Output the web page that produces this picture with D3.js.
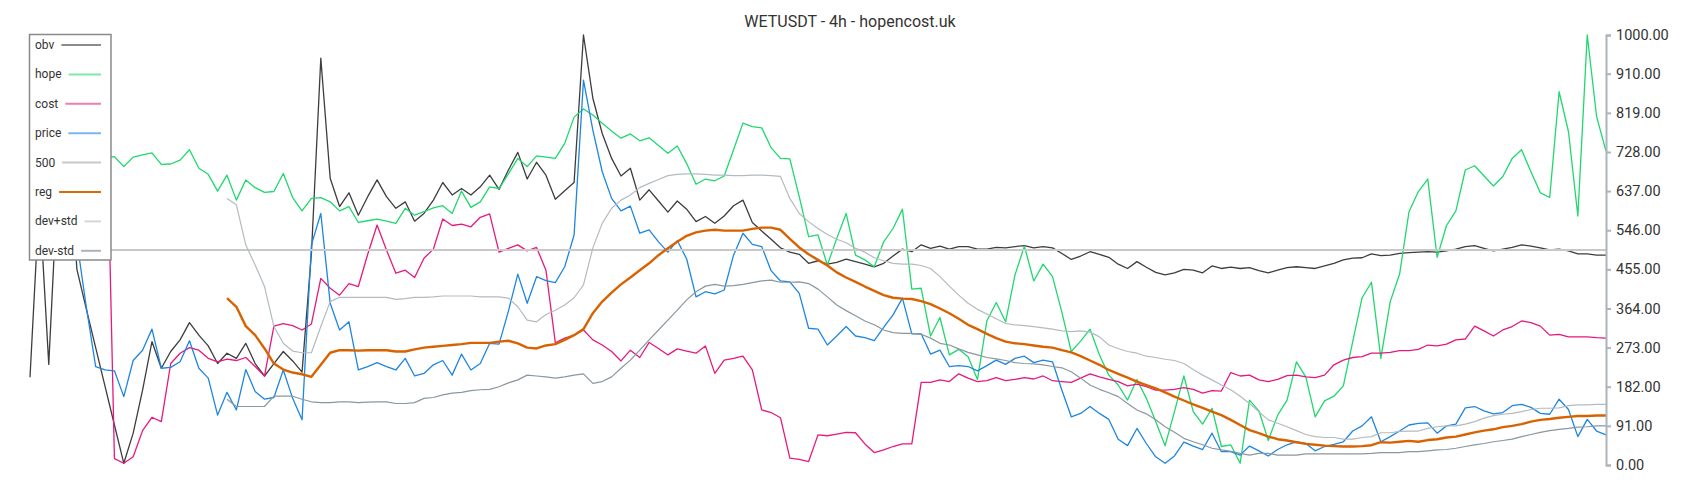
<!DOCTYPE html>
<html><head><meta charset="utf-8">
<script src="https://cdn.jsdelivr.net/npm/d3@7"></script>
<style>
body{margin:0;background:#fff;}
svg{display:block;font-family:Roboto,"Noto Sans",sans-serif;}
</style>
</head><body>
<svg id="chart" width="1700" height="500"></svg>
<script>
const title = "WETUSDT - 4h - hopencost.uk";
const yTicks = [0, 91, 182, 273, 364, 455, 546, 637, 728, 819, 910, 1000];
const seriesNames = ["obv", "hope", "cost", "price", "500", "reg", "dev+std", "dev-std"];

const obv = [
204,620,234,680,780,455,363,273,183,93,
4,74,174,287,225,264,291,331,302,277,
236,260,248,283,236,207,236,264,242,216,
492,946,667,601,633,581,624,663,624,597,
612,567,585,616,657,628,643,628,647,674,
641,686,727,665,704,674,618,638,657,1000,
853,771,713,672,690,616,640,614,588,614,
595,566,578,562,579,603,616,564,544,525,
505,495,490,469,475,467,471,479,473,467,
461,469,486,502,496,512,504,509,502,508,
508,502,502,506,505,508,510,505,508,505,
492,478,486,496,490,483,467,457,473,460,
448,442,447,455,453,447,463,457,460,457,
459,452,447,453,459,461,459,457,463,469,
477,481,482,491,487,488,492,494,495,496,
495,498,502,508,510,504,498,502,506,512,
509,505,500,502,498,491,491,488,488];

const hope = [
690,720,700,740,710,730,700,720,715,717,
694,716,721,726,699,700,709,733,690,676,
637,674,616,663,645,634,636,678,622,591,
620,622,612,591,601,564,568,572,567,562,
597,581,589,598,603,585,637,599,612,647,
643,677,713,694,719,716,713,748,809,828,
814,795,777,760,770,754,761,743,725,742,
701,653,665,661,672,733,795,787,784,738,
713,712,624,531,535,465,527,585,488,477,
461,519,550,595,409,411,300,343,256,269,
252,199,335,378,333,442,509,428,467,438,
355,264,288,316,256,209,186,151,199,155,
101,45,124,207,124,95,132,43,47,4,
151,126,57,116,151,240,205,112,149,160,
184,287,389,425,248,380,444,589,636,665,
483,557,591,686,696,672,649,671,713,733,
682,633,622,868,775,579,1000,810,730];

const cost = [
880,940,920,970,1000,950,930,960,990,15,
4,19,80,111,101,236,260,273,267,248,
240,246,243,250,229,207,323,329,324,314,
328,434,411,395,422,415,490,558,500,446,
453,436,481,502,572,557,560,554,576,584,
495,504,512,498,506,453,284,295,302,314,
291,279,264,242,267,250,285,271,256,270,
265,260,277,213,244,248,253,221,128,122,
110,16,13,8,70,68,72,76,75,49,
29,35,43,49,49,192,192,198,194,212,
202,194,196,203,196,199,203,200,207,196,
194,192,202,212,205,199,194,184,188,182,
174,174,176,180,176,167,173,172,215,207,
209,198,194,199,208,209,205,203,209,233,
244,250,252,260,260,262,266,266,269,279,
277,281,291,293,323,312,300,314,322,335,
331,323,302,304,298,298,298,296,295];

const price = [
760,850,1000,900,720,520,368,229,221,219,
159,243,267,316,225,227,240,289,225,202,
116,169,128,222,171,153,157,221,155,105,
512,585,376,314,333,221,229,238,229,221,
248,207,213,233,243,209,258,221,236,283,
281,358,444,376,438,429,424,461,535,895,
779,682,620,591,602,539,547,519,495,522,
479,391,403,398,407,488,539,513,508,452,
428,426,399,318,316,279,300,322,300,296,
289,320,349,388,305,305,258,267,229,231,
229,219,231,244,234,248,253,238,244,240,
174,112,120,136,120,106,60,45,85,50,
19,4,21,53,44,36,74,31,31,23,
44,33,21,36,47,54,50,33,43,48,
54,79,91,112,54,66,79,93,97,98,
74,91,95,133,136,126,119,122,138,141,
134,120,118,153,129,66,106,79,70];

const level500 = [500, 500];

const reg = [
null,null,null,null,null,null,null,null,null,null,
null,null,null,null,null,null,null,null,null,null,
null,388,368,323,302,271,236,222,215,211,
205,233,261,267,267,266,267,267,267,264,
264,269,273,275,277,279,281,284,284,284,
287,289,283,273,271,278,281,291,302,316,
353,380,401,420,436,453,469,488,504,519,
533,541,545,547,545,545,545,549,552,552,
547,526,506,490,477,464,448,436,426,415,
405,395,389,387,386,381,374,364,353,340,
326,316,305,295,287,283,281,278,275,273,
267,262,253,243,233,221,212,203,194,186,
178,169,159,150,141,133,124,116,105,93,
81,74,66,60,57,53,49,47,45,44,
43,43,44,46,53,52,54,56,54,58,
60,64,66,71,76,80,83,88,91,95,
101,105,107,110,112,114,114,115,115];

const devPlus = [
null,null,null,null,null,null,null,null,null,null,
null,null,null,null,null,null,null,null,null,null,
null,620,605,512,465,415,322,283,265,261,
261,322,380,390,390,390,390,390,390,385,
387,390,390,391,393,393,393,393,391,391,
391,388,368,337,333,350,360,372,389,419,
505,562,597,616,628,645,655,664,673,676,
677,677,676,674,674,673,673,674,674,673,
671,620,585,566,550,536,525,517,504,495,
482,475,469,467,467,464,457,438,416,395,
376,362,351,340,329,326,324,322,319,316,
312,310,312,309,298,279,271,264,260,253,
250,246,243,236,222,209,198,186,175,160,
143,124,105,97,89,80,71,66,64,64,
60,60,64,66,75,75,78,79,79,85,
89,91,91,95,101,109,115,118,120,124,
129,132,132,133,138,140,140,141,141];

const devMinus = [
null,null,null,null,null,null,null,null,null,null,
null,null,null,null,null,null,null,null,null,null,
null,153,136,136,136,136,160,160,160,153,
147,145,145,147,147,145,146,147,147,143,
143,145,155,157,163,167,169,173,175,176,
182,191,198,209,207,205,202,205,209,212,
190,194,205,225,244,267,291,314,337,360,
384,403,416,420,416,417,420,424,428,430,
425,425,426,422,409,391,372,359,347,335,
326,314,308,306,306,304,295,283,279,270,
262,256,250,247,243,238,236,235,233,229,
226,217,202,186,176,168,159,143,128,119,
105,89,76,62,54,47,39,35,32,27,
23,27,27,23,23,23,26,26,26,26,
26,26,26,27,29,29,29,31,31,33,
35,36,39,43,47,50,54,57,60,66,
71,76,80,83,85,88,89,91,91];

const N = obv.length;
const svg = d3.select("#chart");
const x = d3.scaleLinear().domain([0, N - 1]).range([30, 1606]);
const y = d3.scaleLinear().domain([0, 1000]).range([465, 35]);

const series = [
  {name: "obv", data: obv, color: "#3d3d3d", sw: "#8c8c8c", width: 1.3},
  {name: "hope", data: hope, color: "#1fd86e", sw: "#7ee8a9", width: 1.3},
  {name: "cost", data: cost, color: "#e6197d", sw: "#ef7db5", width: 1.3},
  {name: "price", data: price, color: "#1e86e0", sw: "#7cb6ec", width: 1.3},
  {name: "500", data: level500, color: "#c8c8c8", sw: "#c8c8c8", width: 2, idx: [0, N - 1]},
  {name: "reg", data: reg, color: "#d96200", sw: "#d96a0a", width: 2.4},
  {name: "dev+std", data: devPlus, color: "#b3bbc1", sw: "#d2d7db", width: 1.2},
  {name: "dev-std", data: devMinus, color: "#8a979f", sw: "#aab3b9", width: 1.2}
];

const plot = svg.append("g");
series.forEach(s => {
  const pts = s.data.map((v, i) => ({i: s.idx ? s.idx[i] : i, v}));
  const line = d3.line()
    .defined(d => d.v != null)
    .x(d => x(d.i))
    .y(d => y(d.v));
  plot.append("path")
    .datum(pts)
    .attr("fill", "none")
    .attr("stroke", s.color)
    .attr("stroke-width", s.width)
    .attr("stroke-linejoin", "round")
    .attr("d", line);
});

// right axis
const axis = svg.append("g")
  .attr("transform", "translate(1606,0)")
  .call(d3.axisRight(y).tickValues(yTicks).tickFormat(d3.format(".2f")).tickSize(5).tickPadding(5));
axis.select(".domain").attr("stroke", "#aab4bb").attr("stroke-width", 2);
axis.selectAll(".tick line").attr("stroke", "#aab4bb").attr("stroke-width", 2);
axis.selectAll(".tick text").attr("fill", "#333").style("font-size", "14.5px").style("font-family", "Roboto");

// title
svg.append("text")
  .attr("x", 850).attr("y", 26.5)
  .attr("text-anchor", "middle")
  .attr("fill", "#333")
  .style("font-size", "16px")
  .text(title);

// legend
const lg = svg.append("g");
lg.append("rect")
  .attr("x", 29.5).attr("y", 34.5).attr("width", 81.5).attr("height", 225.5)
  .attr("fill", "#fff").attr("stroke", "#8a8a8a").attr("stroke-width", 1.5);
series.forEach((s, k) => {
  const yy = 45 + k * 29.4;
  const t = lg.append("text")
    .attr("x", 35).attr("y", yy)
    .attr("dominant-baseline", "central")
    .attr("fill", "#333")
    .style("font-size", "12px")
    .text(seriesNames[k]);
  const w = t.node().getComputedTextLength();
  lg.append("line")
    .attr("x1", 35 + w + 7).attr("x2", 101)
    .attr("y1", yy).attr("y2", yy)
    .attr("stroke", s.sw).attr("stroke-width", 2);
});
</script>
</body></html>
